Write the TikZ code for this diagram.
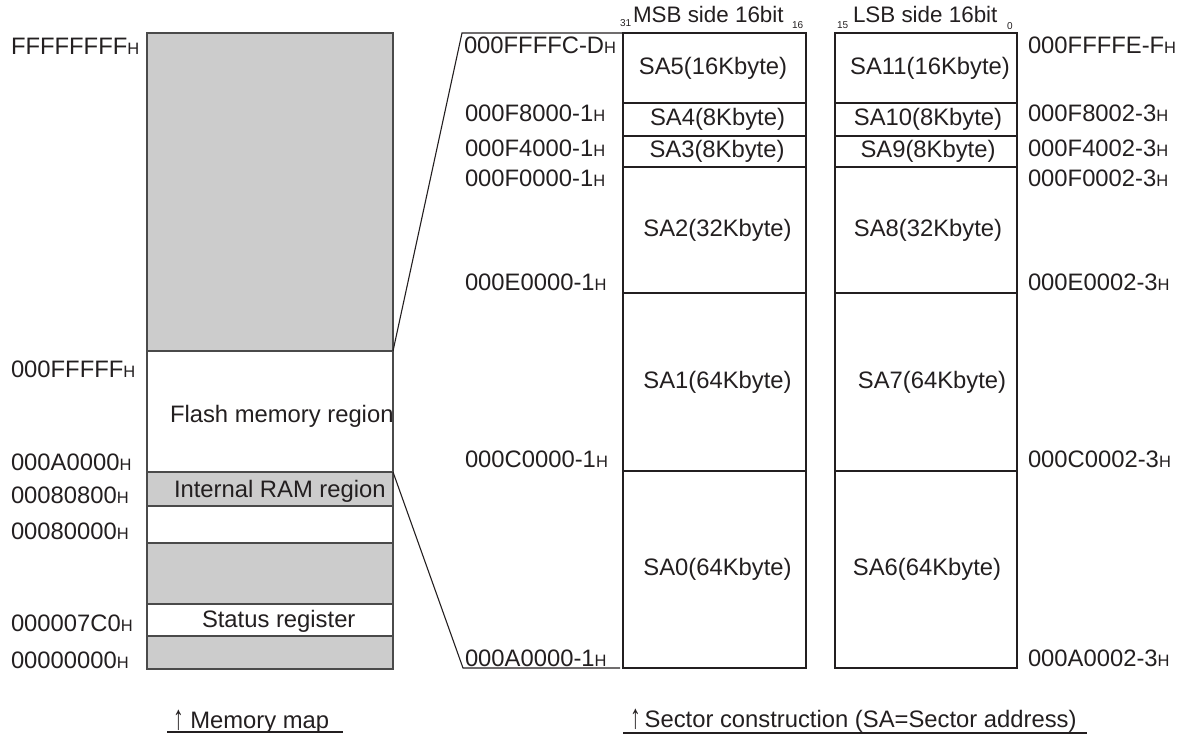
\documentclass[tikz,border=0pt]{standalone}
\usepackage{fontspec}
\usepackage{graphicx}
\setmainfont{Liberation Sans}
\definecolor{ink}{HTML}{231F20}
\definecolor{fillg}{HTML}{CCCCCC}
\definecolor{edgec}{HTML}{4A4A4A}
\newcommand\Hs{{\fontsize{16.5pt}{16.5pt}\selectfont H}}
\newcommand\uparr{\raisebox{-1pt}{\scalebox{0.9}[1.45]{↑}}}
\begin{document}
\begin{tikzpicture}[x=1pt,y=-1pt,
  txt/.style={inner sep=0pt, outer sep=0pt, text=ink, font=\fontsize{23.8pt}{28pt}\selectfont},
  lbl/.style={txt, anchor=base west},
  hdr/.style={inner sep=0pt, outer sep=0pt, text=ink, anchor=base west, font=\fontsize{22.4pt}{26pt}\selectfont},
  tiny/.style={inner sep=0pt, outer sep=0pt, text=ink, anchor=base west, font=\fontsize{10pt}{12pt}\selectfont},
  mapbox/.style={draw=edgec, line width=1.4pt, anchor=north west, inner sep=0pt, outer sep=0pt, minimum width=246pt},
  gbox/.style={mapbox, fill=fillg},
  wbox/.style={mapbox, fill=white},
  secbox/.style={draw=ink, line width=1.1pt, anchor=north west, inner sep=0pt, outer sep=0pt, text=ink, font=\fontsize{23.8pt}{28pt}\selectfont},
  msb/.style={secbox, minimum width=183pt},
  lsb/.style={secbox, minimum width=182pt},
  conn/.style={draw=ink, line width=1.1pt},
  uline/.style={draw=ink, line width=2pt}
]
\useasboundingbox (0,0) rectangle (1184,736);

% ---------- memory map ----------
\node[gbox, minimum height=318pt] (m1) at (147,33) {};
\node[wbox, minimum height=121pt] (m2) at (147,351) {};
\node[gbox, minimum height=34pt]  (m3) at (147,472) {};
\node[wbox, minimum height=37pt]  (m4) at (147,506) {};
\node[gbox, minimum height=61pt]  (m5) at (147,543) {};
\node[wbox, minimum height=32pt]  (m6) at (147,604) {};
\node[gbox, minimum height=33pt]  (m7) at (147,636) {};
\draw[draw=edgec, line width=1.8pt] (m1.north west) rectangle (m7.south east);

\node[lbl] (tflash) at (170,422) {Flash memory region};
\node[lbl] (tram)   at (174,497) {Internal RAM region};
\node[lbl] (tstat)  at (202,627) {Status register};

\node[lbl] (a1) at (11,54.5)  {FFFFFFFF\Hs};
\node[lbl] (a2) at (11,377.5) {000FFFFF\Hs};
\node[lbl] (a3) at (11,470.5) {000A0000\Hs};
\node[lbl] (a4) at (11,503.5) {00080800\Hs};
\node[lbl] (a5) at (11,539.5) {00080000\Hs};
\node[lbl] (a6) at (11,631.5) {000007C0\Hs};
\node[lbl] (a7) at (11,668.5) {00000000\Hs};

% ---------- sector construction ----------
\node[msb, minimum height=70pt]  (s5) at (623,33)  {\hspace*{-3pt}SA5(16Kbyte)};
\node[msb, minimum height=33pt]  (s4) at (623,103) {\hspace*{6pt}SA4(8Kbyte)};
\node[msb, minimum height=31pt]  (s3) at (623,136) {\hspace*{5pt}SA3(8Kbyte)};
\node[msb, minimum height=126pt] (s2) at (623,167) {\hspace*{6pt}SA2(32Kbyte)};
\node[msb, minimum height=178pt] (s1) at (623,293) {\hspace*{6pt}SA1(64Kbyte)};
\node[msb, minimum height=197pt] (s0) at (623,471) {\hspace*{6pt}SA0(64Kbyte)};

\node[lsb, minimum height=70pt]  (s11) at (835,33)  {\hspace*{8pt}SA11(16Kbyte)};
\node[lsb, minimum height=33pt]  (s10) at (835,103) {\hspace*{4pt}SA10(8Kbyte)};
\node[lsb, minimum height=31pt]  (s9)  at (835,136) {\hspace*{4pt}SA9(8Kbyte)};
\node[lsb, minimum height=126pt] (s8)  at (835,167) {\hspace*{4pt}SA8(32Kbyte)};
\node[lsb, minimum height=178pt] (s7)  at (835,293) {\hspace*{12pt}SA7(64Kbyte)};
\node[lsb, minimum height=197pt] (s6)  at (835,471) {\hspace*{2pt}SA6(64Kbyte)};

\node[hdr]  (h1)  at (633,23)   {MSB side 16bit};
\node[tiny] (h31) at (620,26)   {31};
\node[tiny] (h16) at (792,28.5) {16};
\node[hdr]  (h2)  at (853,23)   {LSB side 16bit};
\node[tiny] (h15) at (837,28.5) {15};
\node[tiny] (h0)  at (1007,29)  {0};

\node[lbl] (b1) at (464,53.5)  {000FFFFC-D\Hs};
\node[lbl] (b2) at (465,121.5) {000F8000-1\Hs};
\node[lbl] (b3) at (465,156.5) {000F4000-1\Hs};
\node[lbl] (b4) at (465,186.5) {000F0000-1\Hs};
\node[lbl] (b5) at (465,290.5) {000E0000-1\Hs};
\node[lbl] (b6) at (465,467.5) {000C0000-1\Hs};
\node[lbl] (b7) at (465,666)   {000A0000-1\Hs};

\node[lbl] (c1) at (1028,53.5)  {000FFFFE-F\Hs};
\node[lbl] (c2) at (1028,121.5) {000F8002-3\Hs};
\node[lbl] (c3) at (1028,156.5) {000F4002-3\Hs};
\node[lbl] (c4) at (1028,186.5) {000F0002-3\Hs};
\node[lbl] (c5) at (1028,290.5) {000E0002-3\Hs};
\node[lbl] (c6) at (1028,467.5) {000C0002-3\Hs};
\node[lbl] (c7) at (1028,666)   {000A0002-3\Hs};

% ---------- connectors ----------
\coordinate (ztop) at (462,33);
\coordinate (zbot) at (463,668);
\coordinate (zend) at (620,668);
\draw[conn] (m2.north east) -- (ztop) -- (s5.north west);
\draw[conn] (m3.north east) -- (zbot) -- (zend);

% ---------- captions ----------
\node[lbl] (cap1) at (173,728) {\uparr\ Memory map};
\node[lbl] (cap2) at (630,727) {\uparr\,Sector construction (SA=Sector address)};
\coordinate (u1a) at (167,731.5);
\coordinate (u1b) at (343,731.5);
\coordinate (u2a) at (623,733);
\coordinate (u2b) at (1087,733);
\draw[uline] (u1a) -- (u1b);
\draw[uline] (u2a) -- (u2b);
\end{tikzpicture}
\end{document}
